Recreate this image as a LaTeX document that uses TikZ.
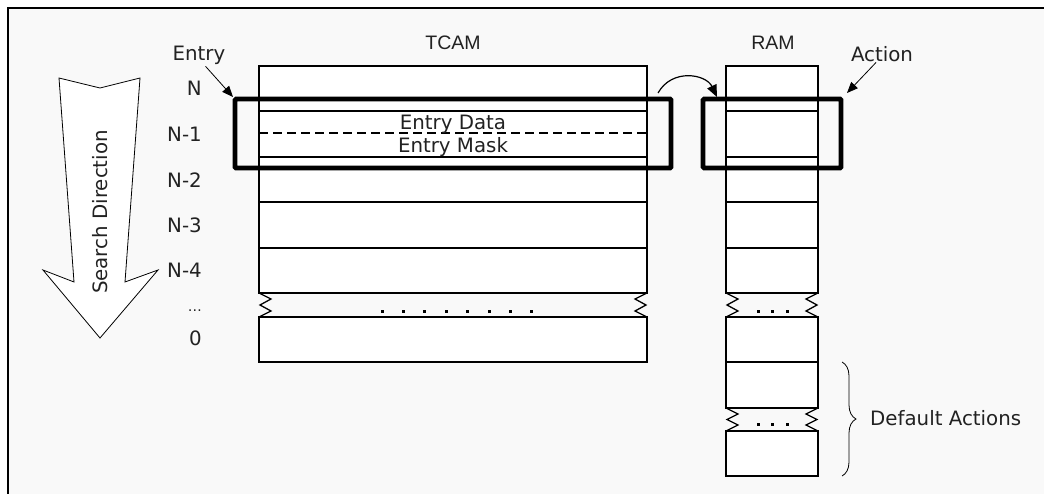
\documentclass[tikz,border=0pt]{standalone}
\usepackage{fontspec}
\setmainfont{DejaVu Sans}
\newfontfamily\arialfont{Liberation Sans}
\usetikzlibrary{arrows.meta,decorations.pathreplacing}
\definecolor{bggray}{HTML}{F9F9F9}
\definecolor{txtgray}{HTML}{222222}
\tikzset{
  rowbox/.style={draw=black, fill=white, line width=1.3pt},
  thickbox/.style={draw=black, line width=4.6pt, rounded corners=1pt},
  lbl/.style={inner sep=0pt, text=txtgray, font=\fontsize{19.8}{23}\selectfont},
  albl/.style={inner sep=0pt, text=txtgray, font=\arialfont\fontsize{19.5}{23}\selectfont},
  ptr/.style={draw=black, line width=0.8pt, -{Triangle[length=11pt,width=9pt]}},
  zig/.style={draw=black, line width=1.3pt},
  dotsq/.style={fill=black},
}
\begin{document}
\begin{tikzpicture}[x=1pt,y=-1pt]
\useasboundingbox (0,0) rectangle (1044,493);
\fill[white] (0,0) rectangle (1044,493);
% frame
\draw[fill=bggray, line width=1.4pt] (8,8) rectangle (1060,510);

% search direction block arrow
\draw[fill=white, line width=0.8pt] (59,78) -- (100,88) -- (140,78) -- (125,282) -- (158,270)
  -- (100,338) -- (43,270) -- (74,282) -- cycle;
\node[lbl, rotate=90] (sdir) at (100,212) {Search Direction};

% row labels
\node[lbl, anchor=base east] (lN)  at (202,95)  {N};
\node[lbl, anchor=base east] (lN1) at (202,141) {N-1};
\node[lbl, anchor=base east] (lN2) at (202,187) {N-2};
\node[lbl, anchor=base east] (lN3) at (202,232) {N-3};
\node[lbl, anchor=base east] (lN4) at (202,277) {N-4};
\node[lbl, anchor=base east, font=\fontsize{14}{16}\selectfont] (ldots) at (202,311) {\ldots};
\node[lbl, anchor=base east] (l0)  at (202,345) {0};

% TCAM
\node[albl, anchor=base] (tcam) at (453,49) {TCAM};
\foreach \a/\b in {66/111,111/157,157/202,202/248,248/293,317/362}{
  \draw[rowbox] (259,\a) rectangle (647,\b);
}
\draw[line width=1.2pt, dash pattern=on 9pt off 5pt] (259,133) -- (647,133);
\node[lbl, anchor=base] (edata) at (453,129) {Entry Data};
\node[lbl, anchor=base] (emask) at (453,152) {Entry Mask};
% TCAM zigzags
\draw[zig] (259,293) -- (271,299) -- (260,305) -- (271,311) -- (259,317);
\draw[zig] (647,293) -- (635,299) -- (646,305) -- (635,311) -- (647,317);
\foreach \x in {0,...,7}{
  \fill[dotsq] ({382+\x*21.4-1.5},309.5) rectangle ++(3,3);
}

% RAM
\node[albl, anchor=base] (ram) at (773,49) {RAM};
\foreach \a/\b in {66/111,111/157,157/202,202/248,248/293,317/362,362/408,431/476}{
  \draw[rowbox] (726,\a) rectangle (818,\b);
}
\draw[zig] (726,293) -- (738,299) -- (727,305) -- (738,311) -- (726,317);
\draw[zig] (818,293) -- (806,299) -- (817,305) -- (806,311) -- (818,317);
\draw[zig] (726,408) -- (738,414) -- (727,419.5) -- (738,425) -- (726,431);
\draw[zig] (818,408) -- (806,414) -- (817,419.5) -- (806,425) -- (818,431);
\foreach \x in {758,772.5,787}{
  \fill[dotsq] (\x-1.5,309.5) rectangle ++(3,3);
  \fill[dotsq] (\x-1.5,423) rectangle ++(3,3);
}

% thick selection boxes
\draw[thickbox] (235,99) rectangle (671,168);
\draw[thickbox] (703,99) rectangle (841,168);
\coordinate (entrytip) at (233,97);
\coordinate (actiontip) at (847,93);
\coordinate (tcamout) at (658,93);
\coordinate (ramin) at (717,97);

% labels with pointers
\node[lbl, anchor=base] (entry) at (199,60) {Entry};
\node[lbl, anchor=base] (action) at (882,61) {Action};
\draw[ptr] (entry.south east) ++(-20,2) coordinate (entrystart) -- (entrytip);
\draw[ptr] (action.south) ++(-6,1) coordinate (actionstart) -- (actiontip);
\draw[line width=1.2pt, -{Triangle[length=12pt,width=10pt]}] (tcamout) .. controls (672,68) and (706,74) .. (ramin);

% default actions brace
\coordinate (bt) at (842,362);
\coordinate (bb) at (842,476);
\draw[line width=0.8pt, decorate, decoration={brace, amplitude=14pt}] (bt) -- (bb);
\node[lbl, anchor=base west] (defact) at (870,425) {Default Actions};
\end{tikzpicture}
\end{document}
